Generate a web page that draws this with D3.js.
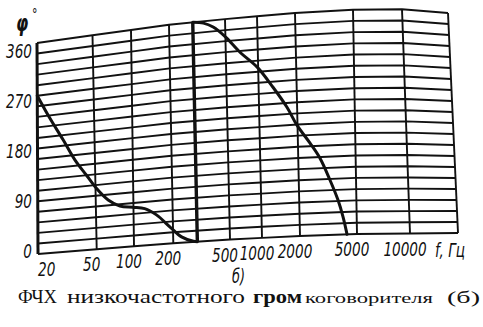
<!DOCTYPE html>
<html>
<head>
<meta charset="utf-8">
<script src="https://cdn.jsdelivr.net/npm/d3@7"></script>
<style>
  body { margin: 0; background: #fff; }
  .tick { font-family: "DejaVu Sans", sans-serif; font-style: italic; font-size: 20px; fill: #111; }
  .cap { font-family: "Liberation Serif", "DejaVu Serif", serif; fill: #111; }
</style>
</head>
<body>
<script>
/* Data
***********************************************************************/
// grid frequencies (Hz) and phase grid step (deg)
var gridFreqs = [20, 50, 100, 200, 500, 1000, 2000, 5000, 10000, 20000];
var freqLabels = ["20", "50", "100", "200", "500", "1000", "2000", "5000", "10000"];
var phaseLabels = [0, 90, 180, 270, 360];
var phaseStep = 18;

// phase response, branch below the wrap (~295 Hz)
var lowFreq  = [20, 24.5, 30.2, 36.3, 43.5, 51, 62.9, 78, 99, 122, 150, 190, 229, 277, 295];
var lowPhase = [270, 229, 190, 154, 126, 102, 81, 69, 65, 61, 49, 27, 9.5, 1, 0];

// branch after the wrap
var highFreq  = [295, 351, 411, 500, 680, 975, 1300, 1663, 1980, 2426, 2830, 3300, 3720, 4020, 4260];
var highPhase = [360, 357, 349, 331, 304, 278, 243, 209, 179, 149, 124, 88, 56, 28, 0];

/* Setup SVG
***********************************************************************/
var svgW = 483;
var svgH = 327;

var svg = d3.select("body").append("svg")
	.attr("width", svgW)
	.attr("height", svgH);

svg.append("rect")
	.attr("width", svgW)
	.attr("height", svgH)
	.attr("fill", "#fff");

/* Scales (the printed grid is skewed, so top and bottom edges get their own)
***********************************************************************/
var xTop = d3.scaleLog().domain(gridFreqs)
	.range([37, 92.5, 131, 169, 225, 257, 295, 353, 402, 448]);
var xBot = d3.scaleLog().domain(gridFreqs)
	.range([38, 96.7, 134, 173.3, 230, 262, 300, 357, 410, 458]);
var yTop = d3.scaleLog().domain(gridFreqs)
	.range([43, 35.3, 30, 24.7, 19.1, 16.3, 13, 9.7, 9.3, 13]);
var yBot = d3.scaleLog().domain(gridFreqs)
	.range([254, 249.3, 246.3, 243.2, 239.5, 237.9, 236, 234, 233.5, 233]);
var vScale = d3.scaleLinear().domain([0, 360]).range([0, 1]);

// the phase labels are printed in a straight column
var labelY = d3.scaleLinear().domain([0, 360]).range([251, 51]);

// position of (frequency, phase) on the sheet
function pt(f, phi) {
	var v = vScale(phi);
	return [
		xBot(f) + v * (xTop(f) - xBot(f)),
		yBot(f) + v * (yTop(f) - yBot(f))
	];
}

/* Grid
***********************************************************************/
var gridGroup = svg.append("g").attr("id", "grid");
var line = d3.line();

// horizontal lines
d3.range(0, 361, phaseStep).forEach(function(p) {
	gridGroup.append("path")
		.attr("d", line(gridFreqs.map(function(f) { return pt(f, p); })))
		.attr("fill", "none")
		.attr("stroke", "#111")
		.attr("stroke-width", 1.9);
});

// vertical lines
gridFreqs.forEach(function(f, i) {
	gridGroup.append("path")
		.attr("d", line([pt(f, 0), pt(f, 360)]))
		.attr("stroke", "#111")
		.attr("stroke-width", i == 0 ? 3 : 1.9);
});

/* Curve
***********************************************************************/
var curveGroup = svg.append("g").attr("id", "curve");
var smooth = d3.line().curve(d3.curveCatmullRom.alpha(0.5));

function branch(fArr, pArr) {
	return fArr.map(function(f, i) { return pt(f, pArr[i]); });
}

curveGroup.append("path")
	.attr("d", smooth(branch(lowFreq, lowPhase)))
	.attr("fill", "none")
	.attr("stroke", "#111")
	.attr("stroke-width", 3)
	.attr("stroke-linecap", "round");

// wrap from 0 to 360
curveGroup.append("path")
	.attr("d", line([pt(lowFreq[lowFreq.length - 1], lowPhase[lowPhase.length - 1]), pt(highFreq[0], highPhase[0])]))
	.attr("stroke", "#111")
	.attr("stroke-width", 3.4);

curveGroup.append("path")
	.attr("d", smooth(branch(highFreq, highPhase)))
	.attr("fill", "none")
	.attr("stroke", "#111")
	.attr("stroke-width", 3)
	.attr("stroke-linecap", "round");

/* Labels
***********************************************************************/
var labelGroup = svg.append("g").attr("id", "labels");

// narrow italic lettering, squeezed horizontally
function tickText(x, y, s, anchor) {
	return labelGroup.append("text")
		.attr("class", "tick")
		.attr("transform", "translate(" + x + "," + y + ") scale(0.68,1)")
		.attr("dy", "0.35em")
		.attr("text-anchor", anchor)
		.text(s);
}

phaseLabels.forEach(function(p) {
	tickText(32, labelY(p), p, "end");
});

freqLabels.forEach(function(s, i) {
	var q = pt(+s, 0);
	tickText(i == 0 ? q[0] : q[0] - 5, q[1] + 15, s, i == 0 ? "start" : "middle");
});

tickText(435, 250, "f, Гц", "start");

// phase axis name
tickText(16, 23, "φ", "start")
	.attr("font-weight", "bold")
	.style("font-size", "23px");
tickText(32, 14, "°", "start")
	.style("font-size", "16px");

tickText(232, 276, "б)", "start")
	.style("font-size", "19px");

/* Caption
***********************************************************************/
var caption = [
	{t: "ФЧХ", x: 18, w: 39, size: 18, weight: "normal"},
	{t: "низкочастотного", x: 67, w: 178, size: 18, weight: "normal"},
	{t: "гром", x: 253, w: 49, size: 19, weight: "bold"},
	{t: "коговорителя", x: 305, w: 128, size: 15, weight: "normal"},
	{t: "(б)", x: 447, w: 33, size: 16, weight: "normal"}
];

caption.forEach(function(c) {
	svg.append("text")
		.attr("class", "cap")
		.attr("x", c.x)
		.attr("y", 303)
		.attr("textLength", c.w)
		.attr("lengthAdjust", "spacingAndGlyphs")
		.attr("font-weight", c.weight)
		.style("font-size", c.size + "px")
		.text(c.t);
});
</script>
</body>
</html>
